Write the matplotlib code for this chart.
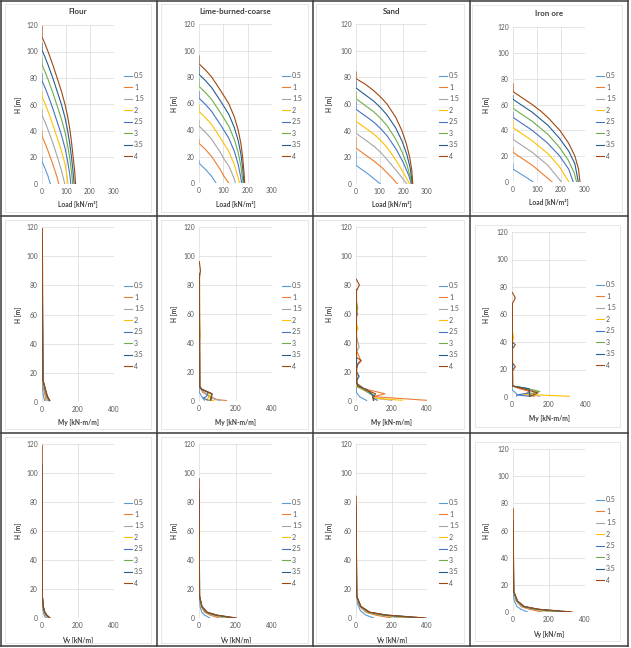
import matplotlib
matplotlib.use('Agg')
import matplotlib.pyplot as plt
from matplotlib.lines import Line2D
from matplotlib.patches import Rectangle

plt.rcParams['font.family'] = ['Lato', 'DejaVu Sans']

fills = ['0.5', '1', '1.5', '2', '2.5', '3', '3.5', '4']
colors = ['#5B9BD5', '#ED7D31', '#A5A5A5', '#FFC000', '#4472C4', '#70AD47', '#255E91', '#9E480E']
materials = ['Flour', 'Lime-burned-coarse', 'Sand', 'Iron ore']

# ---------------- row 1 : wall load [kN/m2] vs H [m]
flour_load_h = [[20, 17, 12, 6, 0],
                [40, 36, 31, 25, 15, 5, 0],
                [56, 52, 47, 41, 31, 21, 11, 0],
                [70, 66, 61, 55, 45, 35, 25, 15, 5, 0],
                [83, 78, 73, 67, 57, 47, 37, 27, 17, 7, 0],
                [95, 90, 85, 79, 69, 59, 49, 39, 29, 19, 9, 0],
                [106, 101, 96, 90, 80, 70, 60, 50, 40, 30, 20, 10, 0],
                [119, 111, 106, 100, 90, 80, 70, 60, 50, 40, 30, 20, 10, 0]]
flour_load_x = [[0, 0, 12, 25, 35],
                [0, 0, 12, 25, 45, 63, 70],
                [0, 0, 12, 25, 45, 63, 80, 95],
                [0, 0, 12, 25, 45, 63, 81, 96, 105, 108],
                [0, 0, 12, 25, 45, 63, 81, 96, 107, 116, 120],
                [0, 0, 12, 25, 45, 63, 81, 96, 107, 116, 123, 128],
                [0, 0, 12, 25, 45, 63, 81, 96, 107, 116, 123, 129, 134],
                [0, 0, 12, 25, 45, 63, 81, 96, 108, 117, 124, 130, 136, 140]]

lime_load_h = [[17, 15, 10, 5, 0],
               [33, 30, 25, 20, 15, 10, 5, 0],
               [47, 43, 38, 33, 28, 23, 18, 13, 8, 3, 0],
               [59, 54, 49, 44, 34, 24, 14, 4, 0],
               [69, 64, 59, 54, 44, 34, 24, 14, 4, 0],
               [79, 73, 68, 63, 53, 43, 33, 23, 13, 3, 0],
               [88, 82, 77, 72, 62, 52, 42, 32, 22, 12, 2, 0],
               [96, 90, 85, 80, 70, 60, 50, 40, 30, 20, 10, 0]]
lime_load_x = [[0, 0, 28, 52, 70],
               [0, 0, 28, 52, 70, 88, 103, 122],
               [0, 0, 28, 52, 70, 88, 103, 122, 134, 145, 150],
               [0, 0, 28, 52, 88, 122, 145, 161, 166],
               [0, 0, 28, 52, 88, 122, 145, 161, 172, 175],
               [0, 0, 28, 52, 88, 122, 145, 161, 172, 179, 181],
               [0, 0, 28, 52, 88, 122, 145, 161, 172, 179, 184, 185],
               [0, 0, 28, 52, 88, 122, 145, 161, 172, 179, 184, 188]]

sand_load_h = [[24, 14, 7, 0],
               [35, 27, 22, 18, 13, 9, 4, 0],
               [45, 38, 33, 28, 23, 18, 8, 0],
               [53, 47, 42, 37, 32, 27, 17, 7, 0],
               [62, 56, 51, 46, 41, 36, 26, 16, 6, 0],
               [69, 64, 59, 54, 49, 44, 34, 24, 14, 4, 0],
               [77, 72, 67, 62, 57, 52, 42, 32, 22, 12, 0],
               [84, 79, 75, 70, 65, 60, 50, 40, 30, 20, 10, 0]]
sand_load_x = [[0, 0, 55, 103],
               [0, 0, 38, 70, 105, 128, 155, 176],
               [0, 0, 40, 78, 108, 133, 180, 215],
               [0, 0, 40, 78, 108, 133, 172, 205, 227],
               [0, 0, 40, 78, 107, 132, 170, 200, 224, 234],
               [0, 0, 38, 76, 105, 130, 167, 195, 216, 231, 236],
               [0, 0, 38, 76, 105, 130, 168, 195, 215, 229, 238],
               [0, 0, 38, 75, 105, 131, 168, 194, 213, 227, 236, 240]]

iron_load_h = [[14, 10, 5, 0],
               [27, 23, 18, 13, 6, 0],
               [37, 33, 28, 23, 13, 0],
               [48, 42, 37, 32, 22, 12, 0],
               [54, 50, 45, 40, 30, 20, 10, 0],
               [62, 57, 52, 47, 37, 27, 17, 7, 0],
               [67, 64, 59, 54, 44, 34, 24, 14, 0],
               [76, 70, 65, 60, 55, 50, 40, 30, 20, 10, 0]]
iron_load_x = [[0, 0, 43, 84],
               [0, 0, 40, 80, 125, 163],
               [0, 0, 40, 80, 145, 202],
               [0, 0, 40, 80, 145, 193, 233],
               [0, 0, 40, 80, 145, 195, 232, 251],
               [0, 0, 40, 80, 145, 193, 230, 255, 265],
               [0, 0, 40, 80, 145, 193, 232, 258, 272],
               [0, 0, 40, 80, 115, 145, 195, 232, 258, 273, 279]]

# ---------------- row 2 : My [kN-m/m] vs H [m]
flour_my_h = [[20, 10, 6, 3, 1], [40, 15, 8, 4, 1], [56, 15, 8, 4, 1], [70, 15, 8, 4, 1],
              [83, 15, 8, 4, 1], [95, 15, 8, 4, 1], [106, 15, 8, 4, 1], [119, 15, 8, 4, 1]]
flour_my_x = [[0, 2, 6, 10, 14], [1, 3, 10, 18, 22], [1, 4, 14, 22, 30], [1, 4, 16, 25, 35],
              [1, 5, 18, 27, 38], [1, 5, 19, 28, 40], [1, 5, 20, 29, 42], [2, 6, 21, 30, 44]]

lime_my_h = [[17, 6, 3, 1.5, 0.5],
             [33, 10, 6, 3, 1, 0.3],
             [47, 9, 6, 3, 1, 0.3],
             [59, 45, 40, 9, 6, 3, 1, 0.3],
             [69, 9, 6, 3, 2, 0.5],
             [79, 10, 8, 5, 2, 0.5],
             [88, 10, 8, 5, 2, 0.5],
             [96, 90, 85, 10, 8, 5, 2, 0.5]]
lime_my_x = [[1, 2, 15, 25, 30],
             [3, 3, 20, 60, 100, 150],
             [2, 3, 30, 55, 90, 120],
             [2, 6, 2, 4, 45, 60, 40, 80],
             [2, 4, 50, 40, 22, 50],
             [2, 4, 15, 68, 65, 60],
             [2, 4, 15, 70, 66, 62],
             [2, 8, 3, 4, 16, 72, 68, 65]]

sand_my_h = [[24, 6, 3, 1, 0.3],
             [35, 30, 28, 25, 10, 8, 5, 3, 0.5],
             [45, 40, 37, 34, 10, 7, 4, 2, 0.5],
             [53, 50, 48, 45, 10, 7, 4, 2, 0.5],
             [62, 60, 58, 12, 8, 4, 2, 0.5],
             [69, 64, 60, 12, 9, 4, 2, 0.5],
             [77, 20, 17, 14, 10, 8, 4, 0.5],
             [84, 80, 76, 30, 28, 25, 22, 12, 8, 5, 2, 0.5]]
sand_my_x = [[1, 2, 20, 50, 60],
             [2, 20, 25, 3, 3, 60, 163, 100, 396],
             [2, 12, 18, 2, 3, 50, 90, 100, 200],
             [2, 12, 3, 2, 3, 60, 95, 97, 260],
             [2, 8, 2, 3, 50, 97, 96, 120],
             [2, 10, 2, 3, 30, 97, 97, 98],
             [2, 3, 18, 3, 10, 60, 96, 98],
             [2, 19, 3, 3, 30, 10, 3, 5, 50, 110, 97, 100]]

iron_my_h = [[14, 5, 3, 1.5, 0.5],
             [27, 8, 6, 4, 2, 0.5],
             [37, 8, 6, 4, 2, 0.5],
             [48, 43, 40, 8, 6, 3, 2, 0.5],
             [54, 8, 6, 3, 1.5, 0.5],
             [62, 8, 6, 4, 2, 0.5],
             [67, 8, 6, 3, 0.5],
             [76, 72, 68, 40, 38, 35, 25, 22, 19, 8, 6, 3, 0.5]]
iron_my_x = [[1, 2, 20, 30, 25],
             [2, 3, 40, 95, 70, 120],
             [2, 3, 60, 140, 90, 150],
             [2, 8, 2, 3, 80, 100, 60, 310],
             [2, 3, 85, 95, 25, 95],
             [2, 3, 90, 150, 100, 100],
             [2, 3, 92, 95, 95],
             [2, 18, 2, 2, 18, 2, 2, 18, 2, 3, 60, 140, 100]]

# ---------------- row 3 : Vy [kN/m] vs H [m]
flour_vy_h = [[20, 10, 5, 2, 0], [40, 15, 8, 4, 2, 0], [56, 15, 8, 4, 2, 0], [70, 15, 8, 4, 2, 0],
              [83, 15, 8, 4, 2, 0], [95, 15, 8, 4, 2, 0], [106, 15, 8, 4, 2, 0], [119, 15, 8, 4, 2, 0]]
flour_vy_x = [[0, 2, 6, 12, 20], [1, 2, 5, 12, 20, 30], [1, 2, 6, 13, 22, 35], [1, 2, 6, 14, 23, 38],
              [1, 2, 6, 14, 24, 40], [1, 2, 7, 15, 25, 42], [1, 2, 7, 15, 26, 44], [1, 2, 7, 16, 27, 45]]

lime_vy_h = [[17, 8, 4, 2, 0], [33, 15, 8, 4, 2, 0], [47, 15, 8, 4, 2, 0], [59, 15, 8, 4, 2, 0],
             [69, 15, 8, 4, 2, 0], [79, 15, 8, 4, 2, 0], [88, 15, 8, 4, 2, 0], [96, 15, 8, 4, 2, 0]]
lime_vy_x = [[1, 6, 15, 30, 60], [1, 3, 12, 30, 60, 110], [1, 3, 13, 35, 70, 140], [1, 3, 14, 38, 80, 160],
             [1, 3, 15, 40, 85, 180], [1, 3, 15, 42, 90, 190], [1, 3, 16, 44, 95, 200], [1, 3, 16, 45, 98, 205]]

sand_vy_h = [[24, 10, 5, 2, 0], [35, 15, 8, 4, 2, 0], [45, 15, 8, 4, 2, 0], [53, 15, 8, 4, 2, 0],
             [62, 15, 8, 4, 2, 0], [69, 15, 8, 4, 2, 0], [77, 15, 8, 4, 2, 0], [84, 15, 8, 4, 2, 0]]
sand_vy_x = [[1, 8, 25, 55, 100], [1, 4, 20, 55, 110, 200], [1, 4, 22, 60, 130, 260], [1, 4, 24, 65, 145, 300],
             [1, 4, 25, 70, 155, 340], [1, 4, 26, 72, 165, 370], [1, 4, 27, 75, 170, 385], [1, 4, 28, 78, 175, 395]]

iron_vy_h = [[14, 8, 4, 2, 0], [27, 15, 8, 4, 2, 0], [37, 15, 8, 4, 2, 0], [48, 15, 8, 4, 2, 0],
             [54, 15, 8, 4, 2, 0], [62, 15, 8, 4, 2, 0], [67, 15, 8, 4, 2, 0], [76, 15, 8, 4, 2, 0]]
iron_vy_x = [[1, 8, 22, 45, 80], [1, 4, 18, 45, 90, 160], [1, 4, 20, 50, 110, 210], [1, 4, 22, 55, 120, 250],
             [1, 4, 23, 58, 130, 280], [1, 4, 24, 60, 135, 300], [1, 4, 25, 62, 140, 320], [1, 4, 26, 64, 145, 330]]

load_rows = [(flour_load_x, flour_load_h), (lime_load_x, lime_load_h),
             (sand_load_x, sand_load_h), (iron_load_x, iron_load_h)]
my_rows = [(flour_my_x, flour_my_h), (lime_my_x, lime_my_h),
           (sand_my_x, sand_my_h), (iron_my_x, iron_my_h)]
vy_rows = [(flour_vy_x, flour_vy_h), (lime_vy_x, lime_vy_h),
           (sand_vy_x, sand_vy_h), (iron_vy_x, iron_vy_h)]

W, H = 631, 648
fig = plt.figure(figsize=(W / 100, H / 100), dpi=100)

def frect(l, t, r, b):
    return [l / W, 1 - b / H, (r - l) / W, (b - t) / H]

# pixel boxes of the plot areas (left, top, right, bottom)
boxes = [
    [(42, 25, 114, 184), (199, 24, 272, 183), (356, 24, 427, 184), (513, 27, 585, 182)],
    [(42, 227, 114, 402), (199, 227, 272, 401), (356, 227, 427, 401), (512, 232, 586, 397)],
    [(42, 444, 114, 618), (199, 444, 272, 618), (356, 444, 427, 618), (513, 449, 585, 612)],
]
ylab_x = [18, 175, 330, 487]
xlab_y = [[205, 205, 205, 202], [423, 423, 423, 418], [640, 640, 640, 634]]
leg_x = [124, 282, 439, 596]
leg_y = [[116, 116, 116, 116], [326, 326, 326, 325], [543, 543, 543, 540]]
frames = [
    [(5, 4, 151, 212), (161, 4, 308, 212), (316, 4, 464, 212), (472, 5, 622, 212)],
    [(5, 220, 151, 429), (161, 220, 308, 429), (316, 220, 464, 429), (475, 225, 620, 427)],
    [(5, 437, 151, 643), (161, 437, 308, 643), (316, 437, 464, 643), (475, 442, 620, 641)],
]
xlabels = ['Load [kN/m²]', 'My [kN-m/m]', 'Vy [kN/m]']
row_data = [load_rows, my_rows, vy_rows]

for r in range(3):
    for c in range(4):
        l, t, rr, b = boxes[r][c]
        fl, ft, fr, fb = frames[r][c]
        fig.add_artist(Rectangle((fl / W, 1 - fb / H), (fr - fl) / W, (fb - ft) / H,
                                 transform=fig.transFigure, fill=False,
                                 edgecolor='#E3E3E3', lw=0.6))
        ax = fig.add_axes(frect(l, t, rr, b))
        xs, hs = row_data[r][c]
        for i in range(8):
            ax.plot(xs[i], hs[i], color=colors[i], lw=0.8, label=fills[i])
        if r == 0:
            ax.set_xlim(0, 300)
            ax.set_xticks([0, 100, 200, 300])
        else:
            ax.set_xlim(0, 400)
            ax.set_xticks([0, 200, 400])
        ax.set_ylim(0, 120)
        ax.set_yticks(range(0, 121, 20))
        ax.grid(True, color='#D9D9D9', lw=0.5)
        ax.set_axisbelow(True)
        for s in ax.spines.values():
            s.set_visible(False)
        ax.tick_params(length=0, labelsize=4.8, colors='#595959', pad=3)
        ax.set_ylabel('H [m]', fontsize=4.8, fontweight='bold', color='#404040', va='center')
        ax.set_xlabel(xlabels[r], fontsize=4.8, fontweight='bold', color='#404040', va='center')
        ax.yaxis.set_label_coords((ylab_x[c] - l) / (rr - l), 0.5)
        ax.xaxis.set_label_coords(0.5, (b - xlab_y[r][c]) / (b - t))
        if r == 0:
            ty = 12 if c < 3 else 14
            ax.text(0.5, (b - ty) / (b - t), materials[c], transform=ax.transAxes,
                    ha='center', va='center', fontsize=5.8, fontweight='bold', color='#404040')
        ax.legend(loc='center left', bbox_to_anchor=(leg_x[c] / W, 1 - leg_y[r][c] / H),
                  bbox_transform=fig.transFigure, frameon=False, fontsize=5,
                  handlelength=1.15, handletextpad=0.3, labelspacing=0.65,
                  borderpad=0, borderaxespad=0, labelcolor='#595959')

# table grid lines
for x in [1, 157, 313, 470, 628]:
    fig.add_artist(Line2D([x / W, x / W], [1 - 646 / H, 1 - 1 / H], transform=fig.transFigure,
                          color='#3A3A3A', lw=1.1))
for y in [1, 216, 433, 646]:
    fig.add_artist(Line2D([1 / W, 628 / W], [1 - y / H, 1 - y / H], transform=fig.transFigure,
                          color='#3A3A3A', lw=1.1))

fig.savefig('out.png', dpi=100)
